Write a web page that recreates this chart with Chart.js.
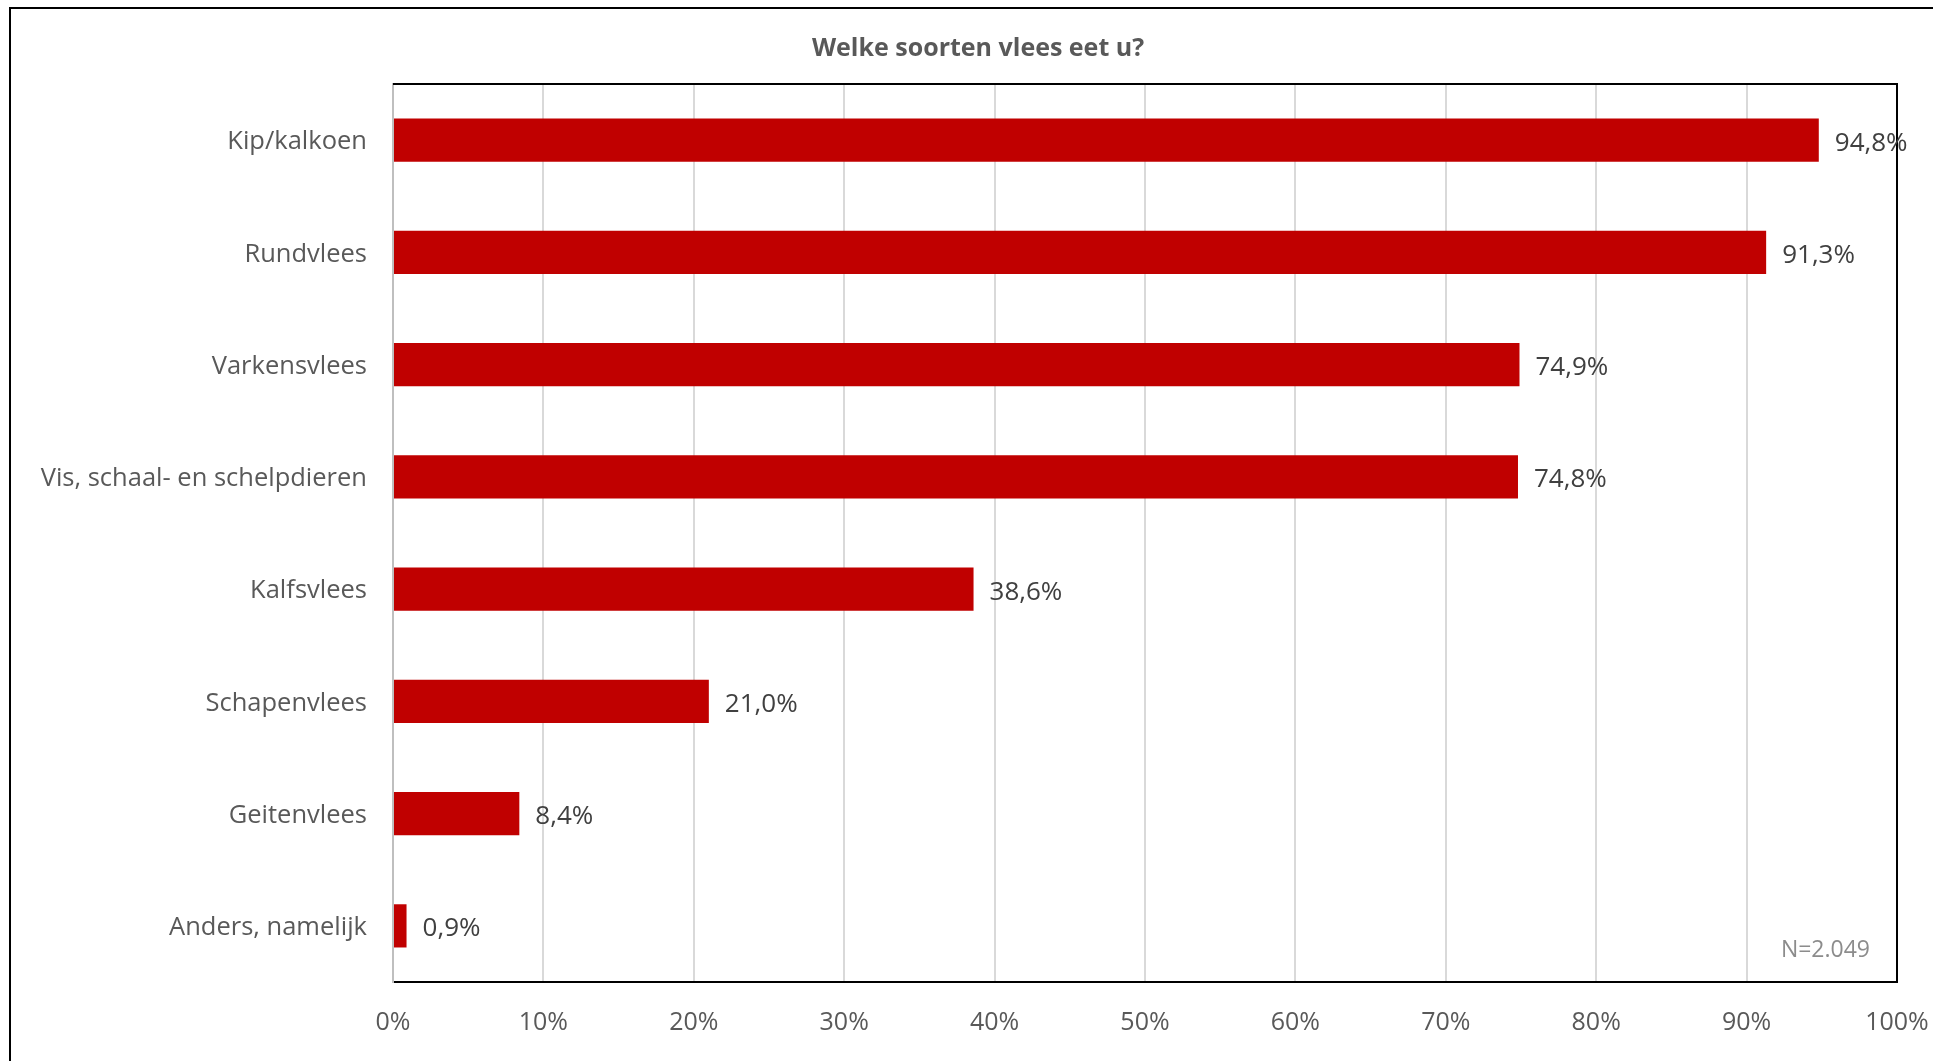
<!DOCTYPE html>
<html>
<head>
<meta charset="utf-8">
<script src="https://cdn.jsdelivr.net/npm/chart.js@4"></script>
<style>
  html, body { margin: 0; padding: 0; background: #fff; }
  canvas { display: block; }
</style>
</head>
<body>
<canvas id="myChart" width="1933" height="1061"></canvas>
<script>
// data
const categories = [
  "Kip/kalkoen",
  "Rundvlees",
  "Varkensvlees",
  "Vis, schaal- en schelpdieren",
  "Kalfsvlees",
  "Schapenvlees",
  "Geitenvlees",
  "Anders, namelijk",
];
const percentages = [94.8, 91.3, 74.9, 74.8, 38.6, 21.0, 8.4, 0.9];
const xTicks = [0, 10, 20, 30, 40, 50, 60, 70, 80, 90, 100];
const titleText = "Welke soorten vlees eet u?";
const noteText = "N=2.049";

const FONT = "'Open Sans', 'DejaVu Sans', sans-serif";

// title, frame, value labels and the N note
const decorations = {
  id: "decorations",
  beforeDraw(chart) {
    const ctx = chart.ctx;
    ctx.save();
    ctx.fillStyle = "#fff";
    ctx.fillRect(0, 0, chart.width, chart.height);
    // outer chart border (runs off the right and bottom edges)
    ctx.strokeStyle = "#000";
    ctx.lineWidth = 2;
    ctx.strokeRect(10, 8, chart.width + 20, chart.height + 20);
    ctx.restore();
  },
  afterDraw(chart) {
    const ctx = chart.ctx;
    const area = chart.chartArea;
    ctx.save();

    // top and right edges of the plot
    ctx.strokeStyle = "#000";
    ctx.lineWidth = 2;
    ctx.beginPath();
    ctx.moveTo(area.left, area.top);
    ctx.lineTo(area.right, area.top);
    ctx.lineTo(area.right, area.bottom);
    ctx.stroke();

    // title
    ctx.fillStyle = "#595959";
    ctx.font = "bold 25px " + FONT;
    ctx.textAlign = "center";
    ctx.textBaseline = "middle";
    ctx.fillText(titleText, 978, 49);

    // value labels
    ctx.fillStyle = "#404040";
    ctx.font = "26px " + FONT;
    ctx.textAlign = "left";
    const meta = chart.getDatasetMeta(0);
    meta.data.forEach((bar, i) => {
      const label = percentages[i].toFixed(1).replace(".", ",") + "%";
      ctx.fillText(label, bar.x + 16, bar.y + 3);
    });

    // sample size
    ctx.fillStyle = "#8c8c8c";
    ctx.font = "23px " + FONT;
    ctx.textAlign = "right";
    ctx.fillText(noteText, area.right - 27, area.bottom - 32);
    ctx.restore();
  },
};

const chartCtx = document.getElementById("myChart").getContext("2d");

new Chart(chartCtx, {
  type: "bar",
  data: {
    labels: categories,
    datasets: [
      {
        data: percentages,
        backgroundColor: "#c00000",
        borderWidth: 0,
        barPercentage: 0.77,
        categoryPercentage: 0.5,
      },
    ],
  },
  options: {
    indexAxis: "y",
    responsive: false,
    animation: false,
    devicePixelRatio: 1,
    layout: {
      padding: { top: 84, right: 36, left: 0, bottom: 0 },
    },
    plugins: {
      legend: { display: false },
      tooltip: { enabled: false },
      title: { display: false },
    },
    scales: {
      x: {
        min: 0,
        max: 100,
        afterBuildTicks: (scale) => {
          scale.ticks = xTicks.map((v) => ({ value: v }));
        },
        afterFit: (scale) => {
          scale.height = 79;
          scale.paddingLeft = 0;
          scale.paddingRight = 0;
        },
        ticks: {
          callback: (v) => v + "%",
          color: "#595959",
          font: { family: FONT, size: 25 },
          padding: 26,
          maxRotation: 0,
        },
        grid: {
          color: "#d9d9d9",
          lineWidth: 2,
          drawTicks: false,
        },
        border: { color: "#000", width: 2 },
      },
      y: {
        afterFit: (scale) => {
          scale.width = 393;
        },
        ticks: {
          color: "#595959",
          font: { family: FONT, size: 25.5 },
          padding: 26,
          labelOffset: 2,
        },
        grid: { display: false, drawTicks: false },
        border: { color: "#bfbfbf", width: 2 },
      },
    },
  },
  plugins: [decorations],
});
</script>
</body>
</html>
